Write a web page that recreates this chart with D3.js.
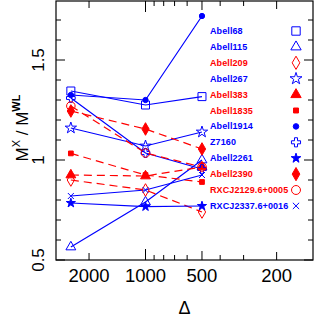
<!DOCTYPE html>
<html><head><meta charset="utf-8">
<script src="https://cdn.jsdelivr.net/npm/d3@7"></script>
<style>body{margin:0;background:#fff}svg{display:block}</style>
</head><body><svg id="c" width="314" height="317"></svg>
<script>
const deltas = [2500, 1000, 500];
const clusters = ["Abell68","Abell115","Abell209","Abell267","Abell383","Abell1835","Abell1914","Z7160","Abell2261","Abell2390","RXCJ2129.6+0005","RXCJ2337.6+0016"];
const colors   = ["blue","blue","red","blue","red","red","blue","blue","blue","red","red","blue"];
const symbols  = ["square","triangle","diamond","star","triangle","square","circle","cross","star","diamond","circle","x"];
const filled   = [false,false,false,false,true,true,true,false,true,true,false,false];
const ratios = [
  [1.345, 1.275, 1.317],
  [0.565, 0.790, 1.000],
  [0.900, 0.850, 0.740],
  [1.160, 1.070, 1.140],
  [0.925, 0.920, 0.965],
  [1.033, 0.925, 0.890],
  [1.325, 1.300, 1.720],
  [1.310, 1.035, 0.955],
  [0.785, 0.767, 0.770],
  [1.245, 1.155, 1.055],
  [1.270, 1.035, 0.965],
  [0.820, 0.850, 0.925]
];
const xTickLabels = [2000, 1000, 500, 200];
const xMinor = [900, 800, 700, 600, 400, 300];
const yTickLabels = [0.5, 1, 1.5];
const yMinor = [0.6,0.7,0.8,0.9,1.1,1.2,1.3,1.4,1.6,1.7];

const colMap = {blue:"#0000ff", red:"#ff0000"};
const svg = d3.select("#c");
const L=56, R=313, T=1, B=260;
const x = d3.scaleLog().domain([3000,128]).range([L,R]);
const y = d3.scaleLinear().domain([0.5,1.795]).range([B,T]);

svg.append("rect").attr("x",L).attr("y",T).attr("width",R-L).attr("height",B-T)
  .attr("fill","none").attr("stroke","#000").attr("stroke-width",1.2);

const tk = svg.append("g").attr("stroke","#000").attr("stroke-width",1);
const xMajLen = {2000:7,1000:11,500:9,200:8};
xTickLabels.forEach(v=>{
  const px=x(v), l=xMajLen[v];
  tk.append("line").attr("x1",px).attr("x2",px).attr("y1",B).attr("y2",B-l);
  tk.append("line").attr("x1",px).attr("x2",px).attr("y1",T).attr("y2",T+l);
});
xMinor.forEach(v=>{
  const px=x(v);
  tk.append("line").attr("x1",px).attr("x2",px).attr("y1",B).attr("y2",B-5);
  tk.append("line").attr("x1",px).attr("x2",px).attr("y1",T).attr("y2",T+5);
});
yTickLabels.forEach(v=>{
  const py=y(v);
  tk.append("line").attr("x1",L).attr("x2",L+9).attr("y1",py).attr("y2",py);
  tk.append("line").attr("x1",R).attr("x2",R-9).attr("y1",py).attr("y2",py);
});
yMinor.forEach(v=>{
  const py=y(v);
  tk.append("line").attr("x1",L).attr("x2",L+5).attr("y1",py).attr("y2",py);
  tk.append("line").attr("x1",R).attr("x2",R-5).attr("y1",py).attr("y2",py);
});

const font = "'Liberation Sans', Arial, Helvetica, sans-serif";
xTickLabels.forEach(v=>{
  svg.append("text").attr("x",x(v)).attr("y",282).attr("text-anchor","middle")
    .attr("font-family",font).attr("font-size",18.5).text(v);
});
yTickLabels.forEach(v=>{
  svg.append("text").attr("transform",`translate(44,${y(v)}) rotate(-90)`)
    .attr("text-anchor","middle").attr("font-family",font).attr("font-size",17).text(v);
});

svg.append("text").attr("x",(L+R)/2).attr("y",314).attr("text-anchor","middle")
  .attr("font-family",font).attr("font-size",18).text("Δ");
const yl = svg.append("text").attr("transform","translate(28,128) rotate(-90)")
  .attr("text-anchor","middle").attr("font-family",font).attr("font-size",17);
yl.append("tspan").text("M");
yl.append("tspan").attr("font-size",11).attr("dy",-8).text("X");
yl.append("tspan").attr("dy",8).text(" / M");
yl.append("tspan").attr("font-size",11).attr("font-weight","bold").attr("dy",-8).text("WL");

function symPath(name, s, fill){
  switch(name){
    case "square": return d3.symbol(d3.symbolSquare, 64*s)();
    case "triangle": return d3.symbol(d3.symbolTriangle, 42*s)();
    case "diamond": return d3.symbol(d3.symbolDiamond, 46*s)();
    case "star": return d3.symbol(d3.symbolStar, (fill?26:40)*s)();
    case "circle": return d3.symbol(d3.symbolCircle, 22*s)();
    case "cross": return d3.symbol(d3.symbolCross, 42*s)();
    case "x": { const r=3*Math.sqrt(s); return `M${-r},${-r}L${r},${r}M${-r},${r}L${r},${-r}`; }
  }
}
function symScale(i){
  if(symbols[i]==="square" && filled[i]) return 0.35;
  if(symbols[i]==="circle" && !filled[i]) return 2.6;
  return 1;
}

const line = d3.line().x((d,j)=>x(deltas[j])).y(d=>y(d));
ratios.forEach((r,i)=>{
  svg.append("path").attr("d",line(r)).attr("fill","none")
    .attr("stroke",colMap[colors[i]]).attr("stroke-width",1.2)
    .attr("stroke-dasharray",colors[i]==="red"?"8,5":null);
});
ratios.forEach((r,i)=>{
  r.forEach((v,j)=>{
    svg.append("path").attr("d",symPath(symbols[i],symScale(i),filled[i]))
      .attr("transform",`translate(${x(deltas[j])},${y(v)})`)
      .attr("fill",filled[i]?colMap[colors[i]]:"none")
      .attr("stroke",colMap[colors[i]]).attr("stroke-width",1);
  });
});

clusters.forEach((c,i)=>{
  const yy = 34 + i*15.9;
  svg.append("text").attr("x",210).attr("y",yy).attr("font-family",font)
    .attr("font-weight","bold").attr("font-size",9).attr("letter-spacing",0.1)
    .attr("fill",colMap[colors[i]]).text(c);
  svg.append("path").attr("d",symPath(symbols[i],symScale(i)*1.1,filled[i]))
    .attr("transform",`translate(296,${yy-3})`)
    .attr("fill",filled[i]?colMap[colors[i]]:"none")
    .attr("stroke",colMap[colors[i]]).attr("stroke-width",1);
});
</script></body></html>
